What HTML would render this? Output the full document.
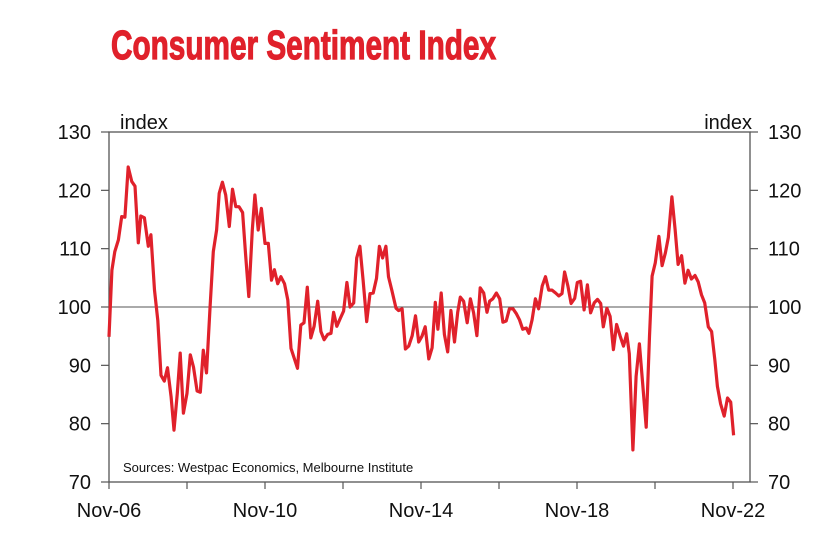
<!DOCTYPE html>
<html><head><meta charset="utf-8"><style>
html,body{margin:0;padding:0;background:#fff;}
svg{display:block;font-family:"Liberation Sans",Arial,sans-serif;}
</style></head><body>
<svg id="chart" width="837" height="539" viewBox="0 0 837 539" xmlns="http://www.w3.org/2000/svg">
<text x="111" y="59" fill="#e0212b" stroke="#e0212b" stroke-width="1.2" font-size="41" font-weight="bold" textLength="385" lengthAdjust="spacingAndGlyphs">Consumer Sentiment Index</text>
<g id="axes"></g>
<g id="series"></g>
</svg>
<script>
const months = [0,0.9,1.8,2.9,3.9,4.9,5.9,7,8,9,9.8,10.9,12.1,12.9,14,15,16,17,18,19.1,20,21,21.9,22.9,24,25,26,27.1,28.1,29,30,31.1,32.1,33.1,33.9,34.9,35.9,37,38,39,40,41.1,42,43,44.1,44.9,45.9,46.9,48,49,50,50.9,51.9,52.9,54,55,56,58,59,60,61,62.1,63.1,64.2,65.2,66.2,67.3,68.3,69.1,70.1,71.2,72.2,73.2,74.2,75.3,76.2,77.2,78.2,79.3,80.3,81.3,82.3,83.2,84.2,85.2,86,87,88.3,89.1,90.2,91.2,92.2,93.3,94.3,95.3,96.3,97.3,98.4,99.4,100.4,101.2,102.2,103.2,104.2,105.2,106.3,107.3,108.1,109.1,110.2,111.2,112.2,113.2,114.2,115.3,116.3,117.1,118.1,119.2,120.2,121.2,122.2,123.2,124.3,125.3,126.3,127.3,128.4,129.2,130.2,131.2,132.2,133.3,134.3,135.3,136.3,137.4,138.4,139.4,140.2,141.2,142.2,143.3,144.1,145.1,146.2,147.2,148.2,149.3,150.3,151.3,152.1,153.2,154.2,155.2,156.2,157.3,158.3,159.3,160.1,161.2,162.2,163.2,164.2,165.3,166.3,167.1,168.1,169.2,170.2,171.2,172.1,173.2,174.2,175.1,176.2,177.2,178.2,179.2,180.3,181.3,182.3,183.3,184.4,185.4,186.4,187.2,188.2,189.3,190.3,191.3,192.2];
const sentiment = [94.9,106.3,109.5,111.5,115.5,115.4,124.0,121.5,120.7,111.0,115.6,115.3,110.4,112.4,102.9,97.7,88.3,87.3,89.6,84.6,78.9,85.2,92.1,81.8,85.2,91.8,89.7,85.6,85.4,92.6,88.7,100.1,109.5,113.2,119.5,121.4,119.2,113.8,120.2,117.2,117.2,116.2,109.2,101.8,113.2,119.2,113.2,116.9,110.9,110.9,104.6,106.4,104.0,105.2,104.0,101.2,92.9,89.5,96.9,97.3,103.4,94.7,96.7,101.0,95.8,94.4,95.3,95.5,99.1,96.7,98.1,99.3,104.2,100.0,100.7,108.4,110.4,104.6,97.5,102.3,102.4,104.9,110.4,108.4,110.4,105.2,102.9,99.8,99.4,99.7,92.8,93.3,95.1,98.5,94.0,95.0,96.6,91.1,93.0,100.8,96.2,102.4,95.3,92.3,99.4,94.0,99.1,101.7,101.0,97.3,101.4,99.0,95.1,103.3,102.4,99.1,101.0,101.4,102.4,101.4,97.4,97.6,99.7,99.7,98.9,97.8,96.2,96.4,95.5,97.8,101.4,99.7,103.6,105.2,102.9,102.9,102.4,101.9,102.3,106.0,103.6,100.6,101.5,104.2,104.4,99.5,103.8,99.0,100.7,101.3,100.6,96.6,99.8,98.4,92.7,97.0,95.0,93.3,95.4,92.0,75.5,88.1,93.7,87.0,79.4,95.0,105.3,107.6,112.1,107.1,109.3,111.9,118.9,113.3,107.3,108.8,104.1,106.3,104.8,105.4,104.3,102.1,100.7,96.6,95.8,91.0,86.4,83.4,81.3,84.4,83.7,78.0];
const yTicks = [70,80,90,100,110,120,130];
const xTickMonths = [0,24,48,72,96,120,144,168,192];
const xLabels = ["Nov-06","","Nov-10","","Nov-14","","Nov-18","","Nov-22"];

const L=109,R=750,T=132,B=482,M0=0,M1=192;
function xs(m){return L+(m-M0)/(M1-M0)*(733-L);}
function ys(v){return B-(v-70)/(130-70)*(B-T);}
const NS="http://www.w3.org/2000/svg";
const ax=document.getElementById('axes'), sr=document.getElementById('series');
function mk(tag,attrs,parent,txt){const e=document.createElementNS(NS,tag);for(const k in attrs)e.setAttribute(k,attrs[k]);if(txt!==undefined)e.textContent=txt;parent.appendChild(e);return e;}

let e=mk('rect',{x:L,y:T,width:R-L,height:B-T,fill:'none',stroke:'#555','stroke-width':1.3},ax);


e=mk('line',{x1:L,x2:R,y1:ys(100),y2:ys(100),stroke:'#555','stroke-width':1},ax);



yTicks.forEach(v=>{
  const y=ys(v);
  let t=mk('line',{x1:L-8,x2:L,y1:y,y2:y,stroke:'#555','stroke-width':1.2},ax);
  
  
  t=mk('line',{x1:R,x2:R+8,y1:y,y2:y,stroke:'#555','stroke-width':1.2},ax);
  
  
  let l=mk('text',{x:91,y:y+7,'text-anchor':'end','font-size':20,fill:'#111'},ax,String(v));
  
  
  l=mk('text',{x:768,y:y+7,'text-anchor':'start','font-size':20,fill:'#111'},ax,String(v));
  
  
});
xTickMonths.forEach((m,i)=>{
  const x=xs(m);
  let t=mk('line',{x1:x,x2:x,y1:B,y2:B+7,stroke:'#555','stroke-width':1.2},ax);
  
  
  if(xLabels[i]){
    let l=mk('text',{x:x,y:517,'text-anchor':'middle','font-size':20,fill:'#111'},ax,xLabels[i]);
    
    
  }
});
e=mk('text',{x:120,y:129,'font-size':20,fill:'#111'},ax,'index');


e=mk('text',{x:752,y:129,'text-anchor':'end','font-size':20,fill:'#111'},ax,'index');


e=mk('text',{x:123,y:472,'font-size':13,fill:'#111'},ax,'Sources: Westpac Economics, Melbourne Institute');



const d=months.map((m,i)=>(i?'L':'M')+xs(m).toFixed(1)+' '+ys(sentiment[i]).toFixed(1)).join(' ');
e=mk('path',{d:d,fill:'none',stroke:'#e0212b','stroke-width':3.2,'stroke-linejoin':'round'},sr);


</script>
</body></html>
